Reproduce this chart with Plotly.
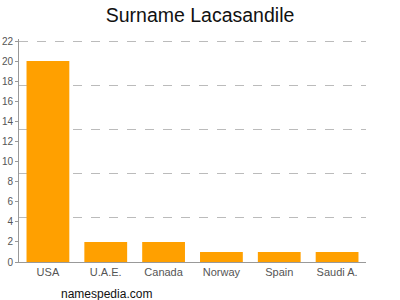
import plotly.graph_objects as go

countries = ["USA", "U.A.E.", "Canada", "Norway", "Spain", "Saudi A."]
counts = [20, 2, 2, 1, 1, 1]
y_ticks = list(range(0, 23, 2))
grid_vals = [4.4, 8.8, 13.2, 17.6, 22]

fig = go.Figure()
fig.add_trace(go.Bar(x=countries, y=counts, marker_color="#FFA000", width=0.74,
                     marker_line_width=0, showlegend=False))
# invisible trace on second axis to carry dashed gridlines
fig.add_trace(go.Scatter(x=countries[:1], y=[0], yaxis="y2", mode="markers",
                         marker_opacity=0, showlegend=False, hoverinfo="skip"))

fig.update_layout(
    width=400, height=300,
    margin=dict(l=19, r=34, t=39, b=38),
    paper_bgcolor="white", plot_bgcolor="white",
    title=dict(text="Surname Lacasandile", x=0.5, xanchor="center", y=0.95, yanchor="middle",
               font=dict(family="Liberation Sans, Arial", size=19.5, color="#111")),
    xaxis=dict(showline=True, linecolor="#999", linewidth=1, ticks="", showgrid=False,
               automargin=False,
               tickfont=dict(family="Liberation Sans, Arial", size=11, color="#555")),
    yaxis=dict(range=[0, 22.2], tickvals=y_ticks, showgrid=False, showline=True, linecolor="#999",
               linewidth=1, ticks="outside", ticklen=3, tickcolor="#999", zeroline=False,
               automargin=False,
               tickfont=dict(family="Liberation Sans, Arial", size=10, color="#555")),
    yaxis2=dict(range=[0, 22.2], overlaying="y", side="left", tickvals=grid_vals, showticklabels=False,
                showgrid=True, gridcolor="#bbb", griddash="dash", gridwidth=1, zeroline=False,
                ticks="", automargin=False),
    annotations=[dict(text="namespedia.com", xref="paper", yref="paper", x=0.115, y=-0.105,
                      xanchor="left", yanchor="top", showarrow=False,
                      font=dict(family="Liberation Sans, Arial", size=12, color="#111"))],
)
fig.write_html("out.html")
